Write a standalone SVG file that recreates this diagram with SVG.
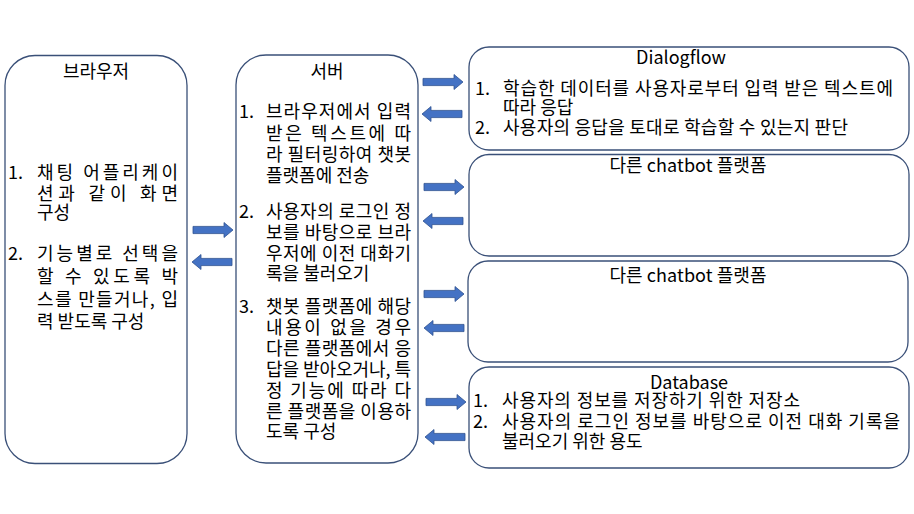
<svg xmlns="http://www.w3.org/2000/svg" xmlns:xlink="http://www.w3.org/1999/xlink" width="914" height="514" viewBox="0 0 914 514">
<style>
.box{fill:#ffffff;stroke:#3A5078;stroke-width:1.3}
text{font-family:"Malgun Gothic","Noto Sans CJK KR","Noto Sans",sans-serif;font-size:18px;fill:#000000}
.t{text-anchor:middle}
.arr{fill:#4472C4;stroke:#2F528F;stroke-width:0.8}
</style>
<defs>
<path id="ar" d="M0,-3.6 H31 V-7.5 L40,0 L31,7.5 V3.6 H0 Z"/>
<path id="al" d="M40,-3.6 H9 V-7.5 L0,0 L9,7.5 V3.6 H40 Z"/>
</defs>
<rect width="914" height="514" fill="#ffffff"/>

<g id="browser">
<rect class="box" x="5" y="55.5" width="182" height="408" rx="30" ry="30"/>
<text class="t" x="96" y="78">브라우저</text>
<text x="8" y="179">1.</text>
<text x="37" y="179" textLength="141" lengthAdjust="spacing">채팅 어플리케이</text>
<text x="37" y="199.5" textLength="141" lengthAdjust="spacing">션과 같이 화면</text>
<text x="37" y="219">구성</text>
<text x="8" y="260">2.</text>
<text x="37" y="260" textLength="141" lengthAdjust="spacing">기능별로 선택을</text>
<text x="37" y="283" textLength="141" lengthAdjust="spacing">할 수 있도록 박</text>
<text x="37" y="306" textLength="141" lengthAdjust="spacing">스를 만들거나, 입</text>
<text x="37" y="328">력 받도록 구성</text>
</g>

<g id="server">
<rect class="box" x="236" y="55" width="182" height="408" rx="30" ry="30"/>
<text class="t" x="327" y="78">서버</text>
<text x="239" y="118">1.</text>
<text x="266" y="118" textLength="145" lengthAdjust="spacing">브라우저에서 입력</text>
<text x="266" y="139.5" textLength="145" lengthAdjust="spacing">받은 텍스트에 따</text>
<text x="266" y="161" textLength="145" lengthAdjust="spacing">라 필터링하여 챗봇</text>
<text x="266" y="182">플랫폼에 전송</text>
<text x="239" y="218">2.</text>
<text x="266" y="218" textLength="145" lengthAdjust="spacing">사용자의 로그인 정</text>
<text x="266" y="239" textLength="145" lengthAdjust="spacing">보를 바탕으로 브라</text>
<text x="266" y="260" textLength="145" lengthAdjust="spacing">우저에 이전 대화기</text>
<text x="266" y="280">록을 불러오기</text>
<text x="239" y="313">3.</text>
<text x="266" y="313" textLength="145" lengthAdjust="spacing">챗봇 플랫폼에 해당</text>
<text x="266" y="334" textLength="145" lengthAdjust="spacing">내용이 없을 경우</text>
<text x="266" y="355" textLength="145" lengthAdjust="spacing">다른 플랫폼에서 응</text>
<text x="266" y="376" textLength="145" lengthAdjust="spacing">답을 받아오거나, 특</text>
<text x="266" y="397" textLength="145" lengthAdjust="spacing">정 기능에 따라 다</text>
<text x="266" y="418" textLength="145" lengthAdjust="spacing">른 플랫폼을 이용하</text>
<text x="266" y="438">도록 구성</text>
</g>

<g id="dialogflow">
<rect class="box" x="469" y="47" width="440" height="103" rx="20" ry="20"/>
<text class="t" x="681" y="64">Dialogflow</text>
<text x="475" y="95">1.</text>
<text x="503" y="95" textLength="390" lengthAdjust="spacing">학습한 데이터를 사용자로부터 입력 받은 텍스트에</text>
<text x="503" y="114">따라 응답</text>
<text x="475" y="134">2.</text>
<text x="503" y="134" textLength="345" lengthAdjust="spacing">사용자의 응답을 토대로 학습할 수 있는지 판단</text>
</g>

<g id="chatbot1">
<rect class="box" x="469" y="154.5" width="440" height="101.5" rx="20" ry="20"/>
<text class="t" x="688" y="172" textLength="157" lengthAdjust="spacing">다른 chatbot 플랫폼</text>
</g>

<g id="chatbot2">
<rect class="box" x="468" y="261" width="440" height="101" rx="20" ry="20"/>
<text class="t" x="688" y="282" textLength="157" lengthAdjust="spacing">다른 chatbot 플랫폼</text>
</g>

<g id="database">
<rect class="box" x="469" y="367" width="440" height="101" rx="20" ry="20"/>
<text class="t" x="689" y="389">Database</text>
<text x="473" y="407">1.</text>
<text x="502" y="407" textLength="298" lengthAdjust="spacing">사용자의 정보를 저장하기 위한 저장소</text>
<text x="473" y="428">2.</text>
<text x="502" y="428" textLength="398" lengthAdjust="spacing">사용자의 로그인 정보를 바탕으로 이전 대화 기록을</text>
<text x="502" y="448">불러오기 위한 용도</text>
</g>

<g id="connectors">
<use xlink:href="#ar" class="arr" x="193" y="230"/>
<use xlink:href="#al" class="arr" x="192" y="262"/>
<use xlink:href="#ar" class="arr" x="423" y="82"/>
<use xlink:href="#al" class="arr" x="422" y="114"/>
<use xlink:href="#ar" class="arr" x="424" y="187"/>
<use xlink:href="#al" class="arr" x="423" y="221"/>
<use xlink:href="#ar" class="arr" x="424" y="294"/>
<use xlink:href="#al" class="arr" x="424" y="328"/>
<use xlink:href="#ar" class="arr" x="426" y="402"/>
<use xlink:href="#al" class="arr" x="425" y="437"/>
</g>
</svg>
